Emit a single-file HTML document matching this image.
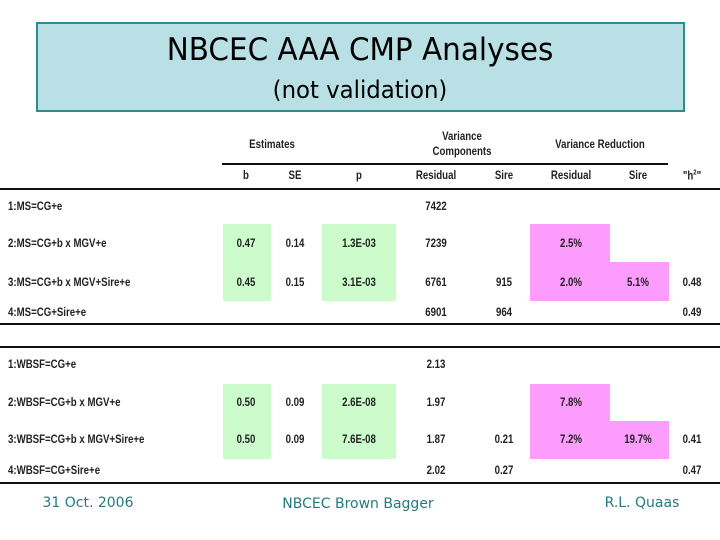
<!DOCTYPE html>
<html><head><meta charset="utf-8">
<style>
body{margin:0;width:720px;height:540px;background:#fff;position:relative;overflow:hidden;font-family:"Liberation Sans",sans-serif;}
.t{position:absolute;font-size:11.5px;font-weight:bold;color:#222;white-space:nowrap;transform:translate(-50%,-50%) scaleX(0.84);}
.l{position:absolute;font-size:11.5px;font-weight:bold;color:#222;white-space:nowrap;transform:translateY(-50%) scaleX(0.84);transform-origin:left center;}
.hl{position:absolute;height:1.5px;background:#111;}
.box{position:absolute;}
.foot{position:absolute;font-family:"DejaVu Sans",sans-serif;font-size:14px;color:#237a80;transform:translate(-50%,-50%);white-space:nowrap;}
</style></head><body>
<div style="position:absolute;left:36px;top:22px;width:645px;height:86px;background:#b9e0e4;border:2px solid #2f8c8c;"></div>
<div style="position:absolute;left:360px;top:50px;transform:translate(-50%,-50%) scaleX(0.95);font-family:'DejaVu Sans',sans-serif;font-size:31px;white-space:nowrap;color:#000;">NBCEC AAA CMP Analyses</div>
<div style="position:absolute;left:360px;top:90px;transform:translate(-50%,-50%) scaleX(0.95);font-family:'DejaVu Sans',sans-serif;font-size:24px;white-space:nowrap;color:#000;">(not validation)</div>

<div id="tbl"></div>

<div class="foot" style="left:88px;top:503px;">31 Oct. 2006</div>
<div class="foot" style="left:358px;top:504px;">NBCEC Brown Bagger</div>
<div class="foot" style="left:642px;top:503px;">R.L. Quaas</div>

<script>
const colX=[246,295,359,436,504,571,638,692];
const headers=["b","SE","p","Residual","Sire","Residual","Sire","\"h2\""];
const msLabels=["1:MS=CG+e","2:MS=CG+b x MGV+e","3:MS=CG+b x MGV+Sire+e","4:MS=CG+Sire+e"];
const msValues=[
 ["","","","7422","","","",""],
 ["0.47","0.14","1.3E-03","7239","","2.5%","",""],
 ["0.45","0.15","3.1E-03","6761","915","2.0%","5.1%","0.48"],
 ["","","","6901","964","","","0.49"]];
const wbLabels=["1:WBSF=CG+e","2:WBSF=CG+b x MGV+e","3:WBSF=CG+b x MGV+Sire+e","4:WBSF=CG+Sire+e"];
const wbValues=[
 ["","","","2.13","","","",""],
 ["0.50","0.09","2.6E-08","1.97","","7.8%","",""],
 ["0.50","0.09","7.6E-08","1.87","0.21","7.2%","19.7%","0.41"],
 ["","","","2.02","0.27","","","0.47"]];
const root=document.getElementById('tbl');
function add(tag,cls,style,text){const e=document.createElement(tag);if(cls)e.className=cls;e.style.cssText=style;if(text!==undefined)e.textContent=text;root.appendChild(e);return e;}
function shade(x,y,w,h,c,name){const e=add('div','box',`left:${x}px;top:${y}px;width:${w}px;height:${h}px;background:${c};`);

}
function section(labels,values,rowY,top,split,bot,prefix){
 shade(223,top,48,bot-top,'#ccfccc',prefix+'-highlight-b');
 shade(322,top,74,bot-top,'#ccfccc',prefix+'-highlight-p');
 shade(530,top,80,split-top,'#fc9cfc',prefix+'-highlight-vr-upper');
 shade(530,split,139,bot-split,'#fc9cfc',prefix+'-highlight-vr-lower');
 labels.forEach((lb,i)=>{
  const e=add('div','l',`left:8px;top:${rowY[i]}px;`,lb);
  
  
  values[i].forEach((v,j)=>{if(!v)return;
   const c=add('div','t',`left:${colX[j]}px;top:${rowY[i]}px;`,v);
   
   });
 });
}
[["Estimates",272,145],["Variance",462,137],["Components",462,152],["Variance Reduction",600,145]].forEach(h=>{
 const e=add('div','t',`left:${h[1]}px;top:${h[2]}px;`,h[0]);
 
 });
headers.forEach((h,j)=>{const e=add('div','t',`left:${colX[j]}px;top:176px;`,'');
 if(h==="\"h2\""){e.innerHTML='"h<sup style="font-size:7px;vertical-align:5px;">2</sup>"';}else{e.textContent=h;}
 
 });
[[222,163,446],[0,188,720],[0,323,720],[0,346,720],[0,482,720]].forEach(l=>{
 const e=add('div','hl',`left:${l[0]}px;top:${l[1]}px;width:${l[2]}px;`);
 
 });
section(msLabels,msValues,[207,244,283,313],224,262,301,'ms');
section(wbLabels,wbValues,[365,403,440,471],384,421,459,'wbsf');
</script>
</body></html>
